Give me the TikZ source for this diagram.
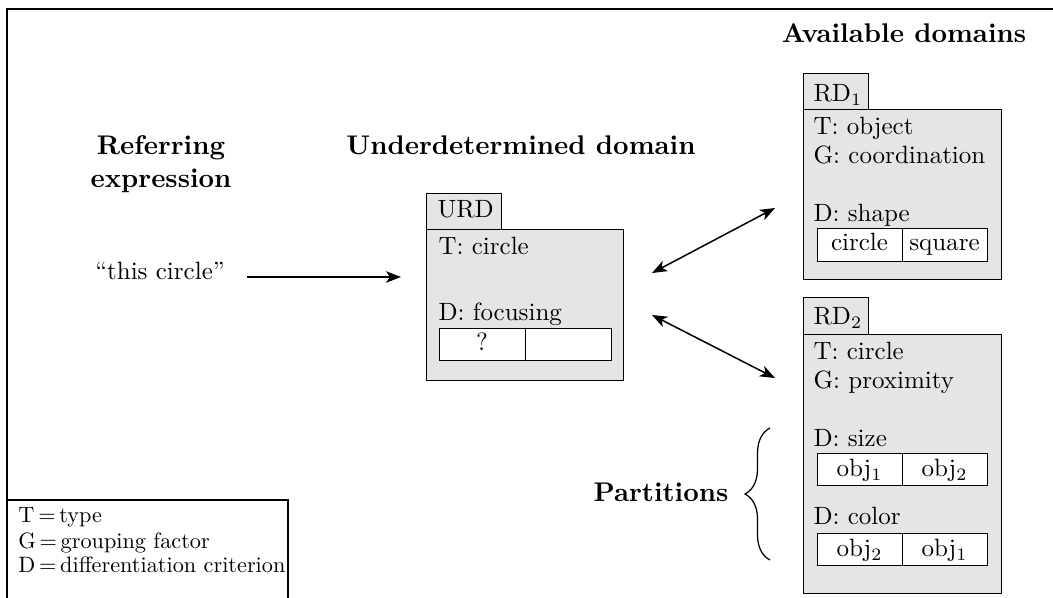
\documentclass[tikz,border=0pt]{standalone}
\usetikzlibrary{arrows.meta,decorations.pathreplacing}
\newcommand\pbox[6]{\node[#6, minimum width={(#4-#2)*0.4pt}, minimum height={(#5-#3)*0.4pt}] (#1) at (#2,#3) {};}
\newcommand\legscale[1]{\scalebox{0.89}{#1}}
\begin{document}
\begin{tikzpicture}[x=0.4pt,y=-0.4pt,
  box/.style={draw, line width=0.5pt, fill=black!10, inner sep=0pt, anchor=north west},
  cell/.style={draw, line width=0.5pt, fill=white, inner sep=0pt, anchor=north west},
  txt/.style={anchor=base west, inner sep=0pt},
  ctxt/.style={anchor=base, inner sep=0pt},
  head/.style={anchor=base, inner sep=0pt, font=\fontsize{10.8}{13.2}\selectfont\bfseries},
  legtxt/.style={anchor=base west, inner sep=0pt},
  link/.style={line width=0.6pt, >={Stealth[length=6pt,width=4.6pt,inset=1.6pt]}}]
\useasboundingbox (0,0) rectangle (1053,598);
% outer frame (top and left visible)
\draw[line width=0.5pt] (7,598) -- (7,9) -- (1053,9);

% headings
\node[head] (refh1) at (161,155) {Referring};
\node[head] (refh2) at (161,188) {expression};
\node[head] (udh) at (521,155) {Underdetermined domain};
\node[head] (avh) at (904,43) {Available domains};

% referring expression
\node[ctxt] (refexpr) at (160,280) {``this circle''};

% URD
\pbox{urdtab}{426}{193}{501}{229}{box}
\pbox{urd}{426}{229}{623}{380}{box}
\node[txt] (urdlab) at (437,218) {URD};
\node[txt] (urdT) at (438,255) {T: circle};
\node[txt] (urdD) at (438,321) {D: focusing};
\pbox{urdc1}{439}{328}{525}{360}{cell}
\pbox{urdc2}{525}{328}{611}{360}{cell}
\node[ctxt] (urdq) at (482,351) {?};

% RD1
\pbox{rdatab}{803}{73}{868}{109}{box}
\pbox{rda}{803}{109}{1001}{279}{box}
\node[txt] (rdalab) at (813,102) {RD$_1$};
\node[txt] (rdaT) at (813,135) {T: object};
\node[txt] (rdaG) at (813,164) {G: coordination};
\node[txt] (rdaD) at (813,222) {D: shape};
\pbox{rdac1}{817}{228}{902}{261}{cell}
\pbox{rdac2}{902}{228}{987}{261}{cell}
\node[ctxt] (rdax1) at (859.5,251) {circle};
\node[ctxt] (rdax2) at (944.5,251) {square};

% RD2
\pbox{rdbtab}{803}{297}{868}{334}{box}
\pbox{rdb}{803}{334}{1001}{593}{box}
\node[txt] (rdblab) at (813,325) {RD$_2$};
\node[txt] (rdbT) at (813,360) {T: circle};
\node[txt] (rdbG) at (813,389) {G: proximity};
\node[txt] (rdbD1) at (813,447) {D: size};
\pbox{rdbc1}{817}{453}{902}{485}{cell}
\pbox{rdbc2}{902}{453}{987}{485}{cell}
\node[ctxt] (rdbx1) at (859.5,477) {obj$_1$};
\node[ctxt] (rdbx2) at (944.5,477) {obj$_2$};
\node[txt] (rdbD2) at (813,525) {D: color};
\pbox{rdbc3}{817}{533}{902}{565}{cell}
\pbox{rdbc4}{902}{533}{987}{565}{cell}
\node[ctxt] (rdbx3) at (859.5,557) {obj$_2$};
\node[ctxt] (rdbx4) at (944.5,557) {obj$_1$};

% partitions
\node[head] (parth) at (661,502) {Partitions};
\draw[line width=0.5pt, decorate, decoration={brace, amplitude=10pt}] (770,560) -- (770,428);

% arrows
\coordinate (ra) at (247,277);
\coordinate (rb) at (401,277);
\coordinate (ua) at (652,273);
\coordinate (ub) at (775,208);
\coordinate (uc) at (652,315);
\coordinate (ud) at (775,378);
\draw[link,->] (ra) -- (rb);
\draw[link,<->] (ua) -- (ub);
\draw[link,<->] (uc) -- (ud);

% legend
\draw[line width=0.5pt] (7,500) -- (288,500) -- (288,598);
\node[legtxt] (legT) at (18,523) {\legscale{T\,=\,type}};
\node[legtxt] (legG) at (18,548) {\legscale{G\,=\,grouping factor}};
\node[legtxt] (legD) at (18,573) {\legscale{D\,=\,differentiation criterion}};
\end{tikzpicture}
\end{document}
